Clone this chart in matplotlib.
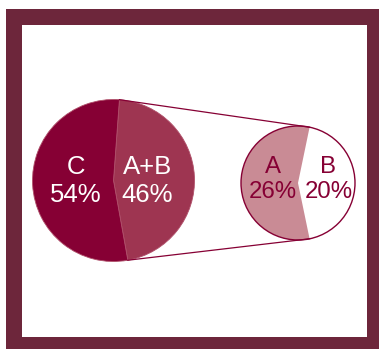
import matplotlib
matplotlib.use("Agg")
import matplotlib.pyplot as plt
from matplotlib.patches import Rectangle
import numpy as np

# data
main_labels = ["A+B", "C"]
main_values = [46, 54]
sub_labels = ["B", "A"]
sub_values = [20, 26]

W, H = 379, 349
frame_col = "#6d263b"
c_col = "#860034"
ab_col = "#9e3551"
a_col = "#c98b95"
b_col = "#ffffff"

fig = plt.figure(figsize=(W / 100, H / 100), dpi=100)
ax = fig.add_axes([0, 0, 1, 1])


def py(y):
    # pixel row -> data y
    return H - y


# frame
ax.add_patch(Rectangle((6, py(353)), 377, 344, facecolor=frame_col, edgecolor="none", zorder=0))
ax.add_patch(Rectangle((22, py(337)), 345, 312, facecolor="white", edgecolor="none", zorder=1))

# big pie
big_c = (113.5, py(180.5))
big_r = 81
big_share = main_values[0] / sum(main_values)
big_start = -0.5 * 360 * big_share + 3
ax.pie(main_values, colors=[ab_col, c_col], startangle=big_start, counterclock=True,
       center=big_c, radius=big_r, frame=True,
       wedgeprops=dict(edgecolor="#b0506a", linewidth=0.6))

# small pie
sm_c = (298, py(183))
sm_r = 57
sm_share = sub_values[0] / sum(sub_values)
sm_start = -0.5 * 360 * sm_share
ax.pie(sub_values, colors=[b_col, a_col], startangle=sm_start, counterclock=True,
       center=sm_c, radius=sm_r, frame=True,
       wedgeprops=dict(edgecolor="none"))
circ = plt.Circle(sm_c, sm_r, fill=False, edgecolor=c_col, linewidth=1.0, zorder=5)
ax.add_patch(circ)

# connector lines
a1 = np.deg2rad(big_start + 360 * big_share)
a2 = np.deg2rad(big_start)
b1 = np.deg2rad(sm_start + 360 * sm_share)
b2 = np.deg2rad(sm_start)
for ab, sb in [(a1, b1), (a2, b2)]:
    ax.plot([big_c[0] + big_r * np.cos(ab), sm_c[0] + sm_r * np.cos(sb)],
            [big_c[1] + big_r * np.sin(ab), sm_c[1] + sm_r * np.sin(sb)],
            color=c_col, linewidth=0.9, zorder=4)

font = "Liberation Sans"


def label(x, y1, y2, name, val, col, size):
    ax.text(x, py(y1), name, ha="center", va="baseline", color=col,
            fontsize=size, family=font, zorder=6)
    ax.text(x, py(y2), "%d%%" % val, ha="center", va="baseline", color=col,
            fontsize=size, family=font, zorder=6)


label(76, 174, 202, main_labels[1], main_values[1], "white", 18.5)
label(147.5, 174, 202, main_labels[0], main_values[0], "white", 18.5)
label(273, 173, 198, sub_labels[1], sub_values[1], c_col, 17.3)
label(328.5, 173, 198, sub_labels[0], sub_values[0], c_col, 17.3)

ax.set_xlim(0, W)
ax.set_ylim(0, H)
ax.set_aspect("equal")
ax.axis("off")

fig.savefig("out.png", dpi=100)
